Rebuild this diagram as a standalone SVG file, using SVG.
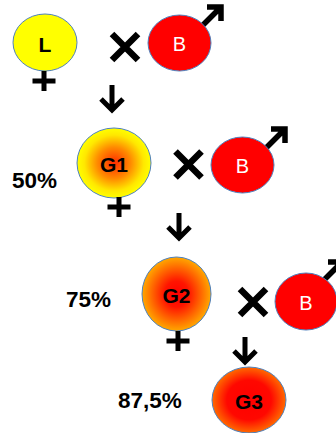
<svg xmlns="http://www.w3.org/2000/svg" width="336" height="433" viewBox="0 0 336 433">
<defs>
<style>
.node{stroke:#4F81BD;stroke-width:1}
.lbl{font-family:"Liberation Sans",Arial,sans-serif;font-weight:bold;font-size:21px;fill:#000;text-anchor:middle;dominant-baseline:central}
.blbl{font-family:"Liberation Sans",Arial,sans-serif;font-size:20px;fill:#fff;text-anchor:middle;dominant-baseline:central}
.pct{font-family:"Liberation Sans",Arial,sans-serif;font-weight:bold;font-size:22.5px;fill:#000}
.sym{stroke:#000;fill:none;stroke-linecap:butt;stroke-linejoin:miter}
</style>
<radialGradient id="g1" cx="50%" cy="50%" r="50%">
<stop offset="0" stop-color="#FF2A00"/>
<stop offset="0.45" stop-color="#FF8A00"/>
<stop offset="0.8" stop-color="#FFE800"/>
<stop offset="1" stop-color="#FFFF00"/>
</radialGradient>
<radialGradient id="g2" cx="50%" cy="50%" r="50%">
<stop offset="0" stop-color="#FF0000"/>
<stop offset="0.35" stop-color="#FF1500"/>
<stop offset="1" stop-color="#FFA800"/>
</radialGradient>
<radialGradient id="g3" cx="50%" cy="50%" r="50%">
<stop offset="0" stop-color="#FF0000"/>
<stop offset="0.6" stop-color="#FF0800"/>
<stop offset="1" stop-color="#FF6A00"/>
</radialGradient>
<g id="cross"><path class="sym" stroke-width="6.5" d="M-13,-13 L13,13 M13,-13 L-13,13"/></g>
<g id="down"><path class="sym" stroke-width="5" d="M0,-14 V12 M-11,0 L0,11 L11,0"/></g>
<g id="male"><path class="sym" stroke-width="5.5" d="M-10,10 L8,-8 M-4,-10 L10,-10 L10,4"/></g>
<g id="fem"><path class="sym" stroke-width="5" d="M0,-10 V10 M-11.5,0 H11.5"/></g>
</defs>

<g id="connectors">
<use href="#down" x="112" y="99"/>
<use href="#down" x="179" y="227"/>
<use href="#down" x="245" y="351"/>
<use href="#cross" x="125" y="47"/>
<use href="#cross" x="188.5" y="164.5"/>
<use href="#cross" x="253" y="302"/>
</g>

<g id="nodeL">
<ellipse class="node" cx="45" cy="42.5" rx="32" ry="28.5" fill="#FFFF00"/>
<text class="lbl" x="45" y="44">L</text>
<use href="#fem" x="44" y="81"/>
</g>

<g id="nodeB1">
<use href="#male" x="211" y="17"/>
<ellipse class="node" cx="179.5" cy="43" rx="31.5" ry="28" fill="#FF0000"/>
<text class="blbl" x="179.5" y="44">B</text>
</g>

<g id="nodeG1">
<ellipse class="node" cx="114" cy="163" rx="37" ry="35" fill="url(#g1)"/>
<text class="lbl" x="114" y="164">G1</text>
<use href="#fem" x="119" y="207"/>
<text class="pct" x="12" y="188">50%</text>
</g>

<g id="nodeB2">
<use href="#male" x="275" y="139"/>
<ellipse class="node" cx="242.5" cy="165" rx="31.5" ry="28" fill="#FF0000"/>
<text class="blbl" x="242.5" y="166">B</text>
</g>

<g id="nodeG2">
<ellipse class="node" cx="176.5" cy="294" rx="34.5" ry="37" fill="url(#g2)"/>
<text class="lbl" x="176.5" y="295">G2</text>
<use href="#fem" x="178" y="341"/>
<text class="pct" x="66" y="307">75%</text>
</g>

<g id="nodeB3">
<use href="#male" x="332" y="272"/>
<ellipse class="node" cx="306" cy="301.5" rx="31" ry="28.5" fill="#FF0000"/>
<text class="blbl" x="306" y="302.5">B</text>
</g>

<g id="nodeG3">
<ellipse class="node" cx="249" cy="400" rx="37" ry="33" fill="url(#g3)"/>
<text class="lbl" x="249" y="401">G3</text>
<text class="pct" x="118" y="408">87,5%</text>
</g>
</svg>
